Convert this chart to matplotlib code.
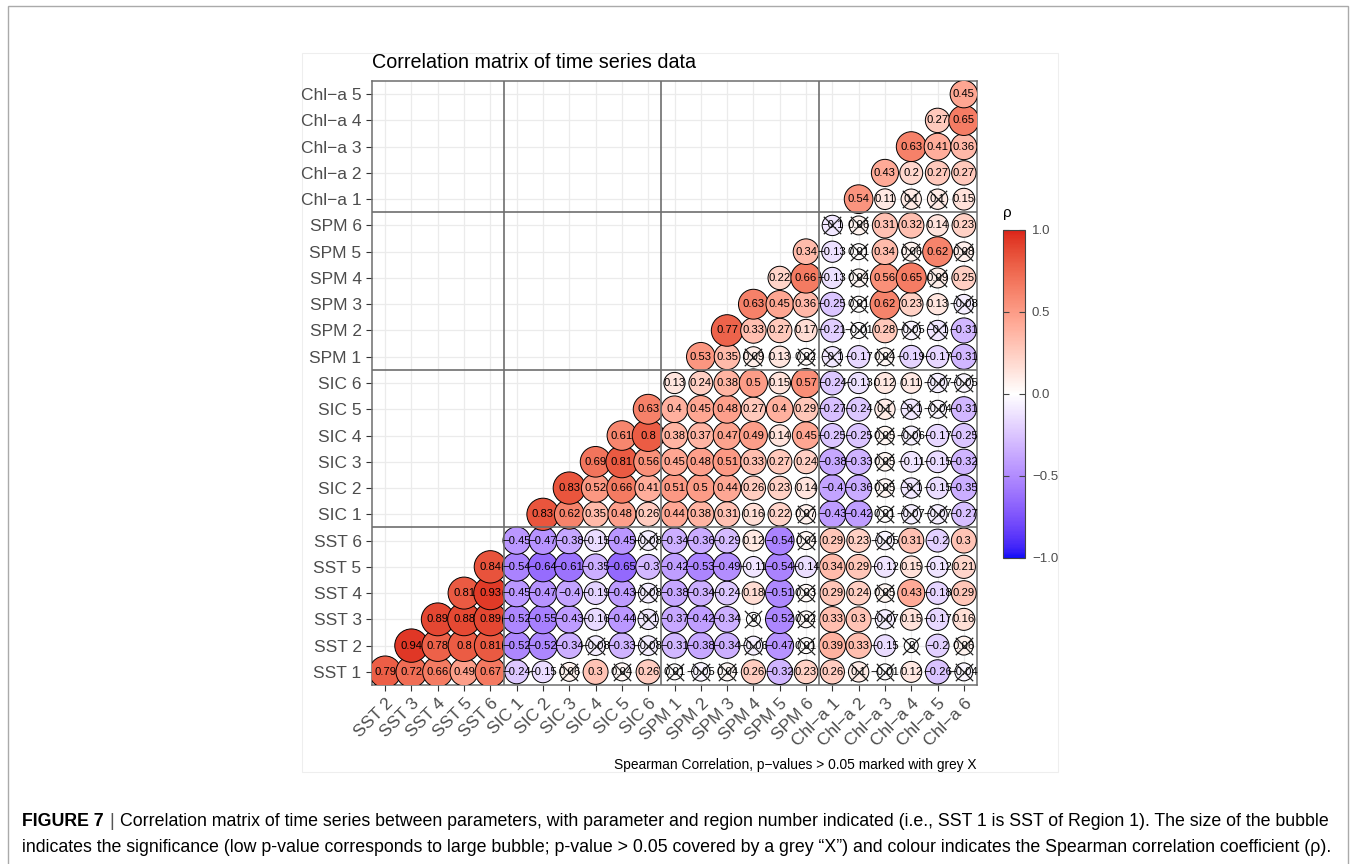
import numpy as np
import matplotlib
matplotlib.use('Agg')
import matplotlib.pyplot as plt
from matplotlib.colors import ListedColormap
from matplotlib.patches import Rectangle

plt.rcParams['font.family'] = ['Liberation Sans', 'DejaVu Sans']

# variables, in matrix order
var_names = ['SST 1', 'SST 2', 'SST 3', 'SST 4', 'SST 5', 'SST 6',
             'SIC 1', 'SIC 2', 'SIC 3', 'SIC 4', 'SIC 5', 'SIC 6',
             'SPM 1', 'SPM 2', 'SPM 3', 'SPM 4', 'SPM 5', 'SPM 6',
             'Chl\u2212a 1', 'Chl\u2212a 2', 'Chl\u2212a 3', 'Chl\u2212a 4', 'Chl\u2212a 5', 'Chl\u2212a 6']
row_labels = var_names[:-1]
col_labels = var_names[1:]

# spearman rho, row i against every variable after it
rho = [
    [0.79, 0.72, 0.66, 0.49, 0.67, -0.24, -0.15, 0.06, 0.3, 0.04, 0.26, 0.01, -0.05, 0.04, 0.26, -0.32, 0.23, 0.26, 0.1, -0.01, 0.12, -0.26, -0.04],
    [0.94, 0.78, 0.8, 0.81, -0.52, -0.52, -0.34, -0.08, -0.33, -0.08, -0.31, -0.38, -0.34, -0.06, -0.47, 0.01, 0.39, 0.33, -0.15, 0, -0.2, 0.06],
    [0.89, 0.88, 0.89, -0.52, -0.55, -0.43, -0.16, -0.44, -0.1, -0.37, -0.42, -0.34, 0, -0.52, 0.02, 0.33, 0.3, -0.07, 0.15, -0.17, 0.16],
    [0.81, 0.93, -0.45, -0.47, -0.4, -0.19, -0.43, -0.08, -0.38, -0.34, -0.24, 0.18, -0.51, 0.03, 0.29, 0.24, 0.05, 0.43, -0.18, 0.29],
    [0.84, -0.54, -0.64, -0.61, -0.35, -0.65, -0.3, -0.42, -0.53, -0.49, -0.11, -0.54, -0.14, 0.34, 0.29, -0.12, 0.15, -0.12, 0.21],
    [-0.45, -0.47, -0.38, -0.15, -0.45, -0.08, -0.34, -0.36, -0.29, 0.12, -0.54, 0.04, 0.29, 0.23, -0.05, 0.31, -0.2, 0.3],
    [0.83, 0.62, 0.35, 0.48, 0.26, 0.44, 0.38, 0.31, 0.16, 0.22, 0.07, -0.43, -0.42, 0.01, -0.07, -0.07, -0.27],
    [0.83, 0.52, 0.66, 0.41, 0.51, 0.5, 0.44, 0.26, 0.23, 0.14, -0.4, -0.36, 0.05, -0.1, -0.15, -0.35],
    [0.69, 0.81, 0.56, 0.45, 0.48, 0.51, 0.33, 0.27, 0.24, -0.38, -0.33, 0.05, -0.11, -0.15, -0.32],
    [0.61, 0.8, 0.38, 0.37, 0.47, 0.49, 0.14, 0.45, -0.25, -0.25, 0.05, -0.06, -0.17, -0.25],
    [0.63, 0.4, 0.45, 0.48, 0.27, 0.4, 0.29, -0.27, -0.24, 0.1, -0.1, -0.04, -0.31],
    [0.13, 0.24, 0.38, 0.5, 0.15, 0.57, -0.24, -0.13, 0.12, 0.11, -0.07, -0.05],
    [0.53, 0.35, 0.09, 0.13, 0.02, -0.1, -0.17, 0.04, -0.19, -0.17, -0.31],
    [0.77, 0.33, 0.27, 0.17, -0.21, -0.01, 0.28, -0.05, -0.1, -0.31],
    [0.63, 0.45, 0.36, -0.25, 0.01, 0.62, 0.23, 0.13, -0.08],
    [0.22, 0.66, -0.13, 0.04, 0.56, 0.65, 0.09, 0.25],
    [0.34, -0.13, 0.01, 0.34, 0.06, 0.62, 0.08],
    [-0.1, 0.06, 0.31, 0.32, 0.14, 0.23],
    [0.54, 0.11, 0.1, 0.1, 0.15],
    [0.43, 0.2, 0.27, 0.27],
    [0.63, 0.41, 0.36],
    [0.27, 0.65],
    [0.45],
]

# columns with p > 0.05 (crossed) for each row
ns = [
    ['SIC 3', 'SIC 5', 'SPM 1', 'SPM 2', 'SPM 3', 'Chl\u2212a 2', 'Chl\u2212a 3', 'Chl\u2212a 6'],
    ['SIC 4', 'SIC 6', 'SPM 4', 'SPM 6', 'Chl\u2212a 4', 'Chl\u2212a 6'],
    ['SIC 6', 'SPM 4', 'SPM 6', 'Chl\u2212a 3'],
    ['SIC 6', 'SPM 6', 'Chl\u2212a 3'],
    [],
    ['SIC 6', 'SPM 6', 'Chl\u2212a 3'],
    ['SPM 6', 'Chl\u2212a 3', 'Chl\u2212a 4', 'Chl\u2212a 5'],
    ['Chl\u2212a 3', 'Chl\u2212a 4'],
    ['Chl\u2212a 3'],
    ['Chl\u2212a 3', 'Chl\u2212a 4'],
    ['Chl\u2212a 3', 'Chl\u2212a 4', 'Chl\u2212a 5'],
    ['Chl\u2212a 5', 'Chl\u2212a 6'],
    ['SPM 4', 'SPM 6', 'Chl\u2212a 1', 'Chl\u2212a 3'],
    ['Chl\u2212a 2', 'Chl\u2212a 4', 'Chl\u2212a 5'],
    ['Chl\u2212a 2', 'Chl\u2212a 6'],
    ['Chl\u2212a 2', 'Chl\u2212a 5'],
    ['Chl\u2212a 2', 'Chl\u2212a 4', 'Chl\u2212a 6'],
    ['Chl\u2212a 1', 'Chl\u2212a 2'],
    ['Chl\u2212a 4', 'Chl\u2212a 5'],
    [], [], [], [],
]

# blue - white - red gradient, interpolated in Lab like ggplot
M = np.array([[0.4124, 0.3576, 0.1805], [0.2126, 0.7152, 0.0722], [0.0193, 0.1192, 0.9505]])
WP = np.array([0.95047, 1.0, 1.08883])

def to_lab(rgb):
    rgb = np.asarray(rgb, float)
    lin = np.where(rgb <= 0.04045, rgb / 12.92, ((rgb + 0.055) / 1.055) ** 2.4)
    xyz = M @ lin / WP
    f = np.where(xyz > 0.008856, np.cbrt(xyz), 7.787 * xyz + 16 / 116)
    return np.array([116 * f[1] - 16, 500 * (f[0] - f[1]), 200 * (f[1] - f[2])])

def from_lab(lab):
    fy = (lab[0] + 16) / 116
    f = np.array([fy + lab[1] / 500, fy, fy - lab[2] / 200])
    xyz = np.where(f ** 3 > 0.008856, f ** 3, (f - 16 / 116) / 7.787) * WP
    lin = np.clip(np.linalg.inv(M) @ xyz, 0, 1)
    rgb = np.where(lin <= 0.0031308, 12.92 * lin, 1.055 * lin ** (1 / 2.4) - 0.055)
    return np.clip(rgb, 0, 1)

lab_blue, lab_white, lab_red = to_lab([0.05, 0.05, 0.97]), to_lab([1, 1, 1]), to_lab([0.86, 0.14, 0.1])
cols = []
for t in np.linspace(-1, 1, 257):
    end = lab_blue if t < 0 else lab_red
    cols.append(from_lab(lab_white + (end - lab_white) * abs(t)))
cmap = ListedColormap(cols)

# collect points
xs, ys, vs, xn, yn = [], [], [], [], []
for i, row in enumerate(rho):
    for k, v in enumerate(row):
        j = i + k  # column index (col_labels)
        xs.append(j)
        ys.append(i)
        vs.append(v)
        if col_labels[j] in ns[i]:
            xn.append(j)
            yn.append(i)
vs = np.array(vs)

W, H = 1356, 864
fig = plt.figure(figsize=(W / 100, H / 100), dpi=100)

# frames
fig.patches.append(Rectangle((302 / W, 1 - 772 / H), 756 / W, 719 / H, transform=fig.transFigure,
                             fill=False, ec='#eeeeee', lw=0.8, zorder=-5))
fig.patches.append(Rectangle((8 / W, -0.1), 1340 / W, 1.1 - 6 / H, transform=fig.transFigure,
                             fill=False, ec='#aaaaaa', lw=1.0, zorder=-5))

ax = fig.add_axes([372 / W, (H - 685) / H, 605 / W, 604 / H])

d = 14 + 20 * np.sqrt(np.abs(vs))  # bubble diameter in px
sc = ax.scatter(xs, ys, s=(d * 0.72) ** 2, c=vs, cmap=cmap, vmin=-1, vmax=1,
                edgecolors='black', linewidths=0.7, zorder=3)
for x, y, v in zip(xs, ys, vs):
    ax.text(x, y, f'{v:g}'.replace('-', '\u2212'), ha='center', va='center',
            fontsize=8.1, color='black', zorder=5)
ax.scatter(xn, yn, marker='x', s=12.5 ** 2, c='#222222', linewidths=0.9, zorder=4)

for p in [4.5, 10.5, 16.5]:
    ax.axvline(p, color='#6e6e6e', lw=1.2, zorder=3.5)
for p in [5.5, 11.5, 17.5]:
    ax.axhline(p, color='#6e6e6e', lw=1.2, zorder=3.5)

ax.set_xlim(-0.5, 22.5)
ax.set_ylim(-0.5, 22.5)
ax.set_xticks(range(23))
ax.set_yticks(range(23))
ax.set_xticklabels(col_labels, rotation=45, ha='right', va='top', rotation_mode='anchor')
ax.set_yticklabels(row_labels)
ax.tick_params(length=4, width=0.8, color='#333333', labelsize=12.5, labelcolor='#4d4d4d')
ax.grid(True, color='#ebebeb', lw=0.9)
ax.set_axisbelow(True)
for s in ax.spines.values():
    s.set_color('#6e6e6e')
    s.set_linewidth(1.1)

# colour bar
cax = fig.add_axes([1003 / W, (H - 558) / H, 22 / W, 328 / H])
cb = fig.colorbar(sc, cax=cax, ticks=[-1, -0.5, 0, 0.5, 1])
cb.ax.set_yticklabels(['\u22121.0', '\u22120.5', '0.0', '0.5', '1.0'])
cb.ax.tick_params(direction='in', length=4, width=0.8, left=True, right=True,
                  labelsize=9.5, labelcolor='#4d4d4d', color='#444444', pad=5)
cb.outline.set_edgecolor('#444444')
cb.outline.set_linewidth(0.8)
fig.text(1003 / W, 1 - 213 / H, '\u03c1', fontsize=11, va='center')

fig.text(372 / W, 1 - 62 / H, 'Correlation matrix of time series data', fontsize=14.2, va='center')
fig.text(977 / W, 1 - 765 / H, 'Spearman Correlation, p\u2212values > 0.05 marked with grey X',
         fontsize=9.9, ha='right', va='center')

# figure caption
r = fig.canvas.get_renderer()
t1 = fig.text(22 / W, 1 - 822 / H, 'FIGURE 7', fontsize=12.8, fontweight='bold', va='center')
x1 = t1.get_window_extent(r).x1
t2 = fig.text((x1 + 6) / W, 1 - 822 / H, '|', fontsize=12.8, va='center', color='#555555')
x2 = t2.get_window_extent(r).x1
fig.text((x2 + 6) / W, 1 - 822 / H,
         'Correlation matrix of time series between parameters, with parameter and region number indicated '
         '(i.e., SST 1 is SST of Region 1). The size of the bubble',
         fontsize=12.8, va='center')
fig.text(22 / W, 1 - 848 / H,
         'indicates the significance (low p-value corresponds to large bubble; p-value > 0.05 covered by a grey '
         '\u201cX\u201d) and colour indicates the Spearman correlation coefficient (\u03c1).',
         fontsize=12.8, va='center')

fig.savefig('out.png', dpi=100)
